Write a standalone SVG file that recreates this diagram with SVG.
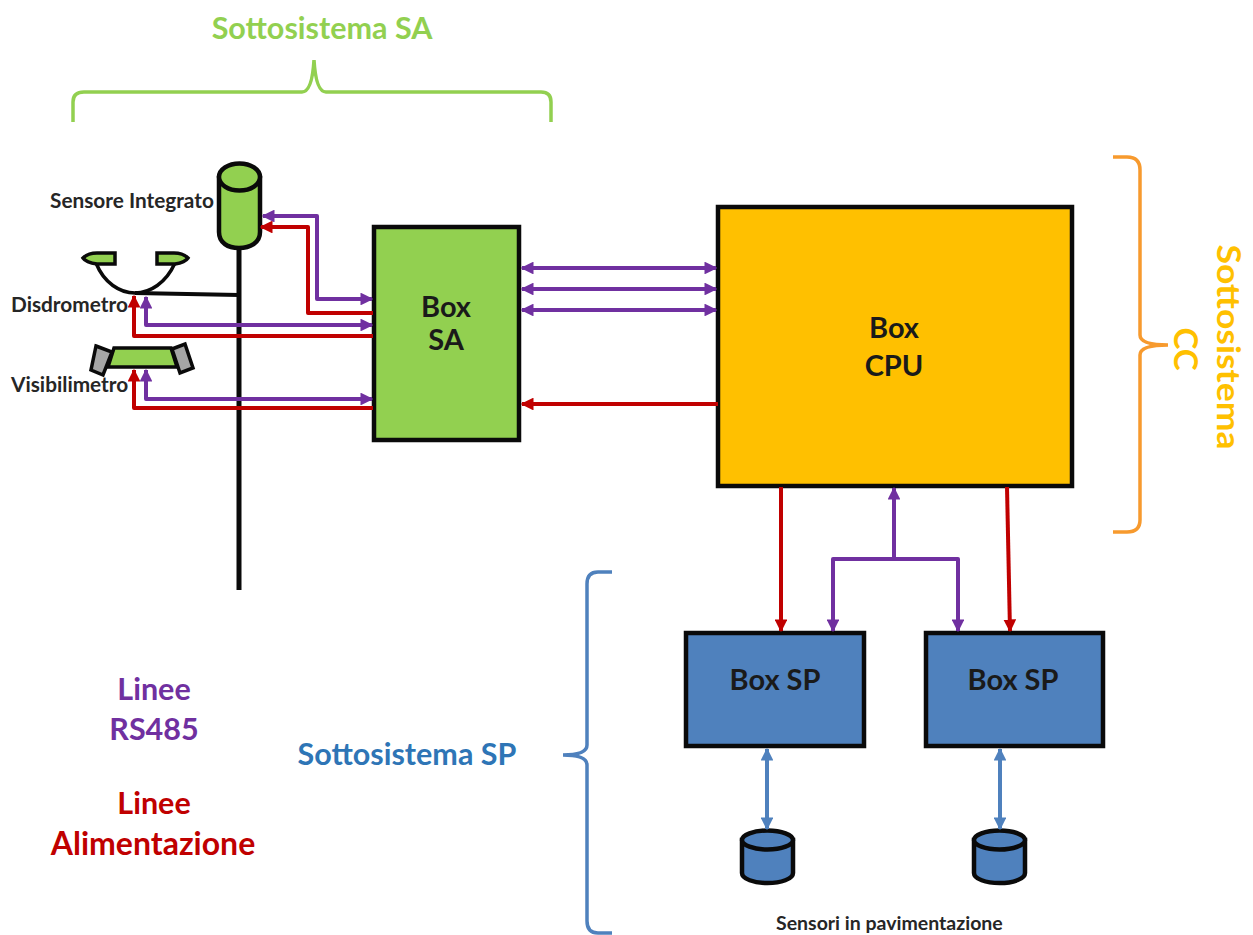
<svg xmlns="http://www.w3.org/2000/svg" width="1253" height="935" viewBox="0 0 1253 935">
<style>
text{font-family:Lato,"Noto Sans",sans-serif;font-weight:700}
.box{stroke:#0a0a0a;stroke-width:4.500}
.g{fill:#92d050}.b{fill:#4f81bd}.o{fill:#ffc000}
.ln{stroke:#0a0a0a;stroke-width:5;fill:none}
.p,.r,.bl{fill:none;stroke-width:4;stroke-linejoin:round}
.p{stroke:#7030a0}.r{stroke:#c00000}.bl{stroke:#4f81bd}
.lbl{font-size:20.800px;fill:#262626}
.big{font-size:30.500px;text-anchor:middle}
.inner{font-size:29px;text-anchor:middle;fill:#1a1a1a}
</style>
<defs>
<marker id="ap" viewBox="0 0 10 10" refX="9" refY="5" markerWidth="3.200" markerHeight="3.200" orient="auto-start-reverse"><path d="M0 0L10 5L0 10Z" fill="#7030a0"/></marker>
<marker id="ar" viewBox="0 0 10 10" refX="9" refY="5" markerWidth="3.200" markerHeight="3.200" orient="auto-start-reverse"><path d="M0 0L10 5L0 10Z" fill="#c00000"/></marker>
<marker id="ab" viewBox="0 0 10 10" refX="9" refY="5" markerWidth="3.200" markerHeight="3.200" orient="auto-start-reverse"><path d="M0 0L10 5L0 10Z" fill="#4f81bd"/></marker>
</defs>
<rect width="1253" height="935" fill="#fff"/>

<g id="palo"><path class="ln" d="M239 248V590"/><path class="ln" style="stroke-width:4" d="M135 293Q190 294 239 295"/></g>

<g id="sensore-integrato">
<path class="box g" d="M219 178V232C219 243 228 248 239 248C250 248 260 243 260 232V178Z"/>
<ellipse class="box g" cx="239.500" cy="177" rx="20.500" ry="13.500"/>
<text class="lbl" x="50" y="208">Sensore Integrato</text>
</g>
<g id="disdrometro">
<path class="ln" style="stroke-width:3.500" d="M96 263C104 283 120 293 135 293C150 293 166 283 175 263"/>
<path class="g" style="stroke:#0a0a0a;stroke-width:3.500" d="M115 253V264H97C89 263 85 261 83 258C86 255 90 253 97 253Z"/>
<path class="g" style="stroke:#0a0a0a;stroke-width:3.500" d="M157 253V264H175C182 263 186 261 188 258C185 255 180 253 174 253Z"/>
<text class="lbl" x="11" y="312">Disdrometro</text>
</g>
<g id="visibilimetro">
<path class="g" style="stroke:#0a0a0a;stroke-width:3.500" d="M114 348H171L177 367H108Z"/>
<path style="fill:#a6a6a6;stroke:#0a0a0a;stroke-width:3.500" d="M96 346L112 352L103 375L91 370Z"/>
<path style="fill:#a6a6a6;stroke:#0a0a0a;stroke-width:3.500" d="M172 349L185 344L193 368L180 373Z"/>
<text class="lbl" x="11" y="392">Visibilimetro</text>
</g>

<g id="box-sa"><rect class="box g" x="374" y="227" width="145" height="213"/>
<text class="inner" x="446" y="317">Box</text><text class="inner" x="446" y="350">SA</text></g>
<g id="box-cpu"><rect class="box o" x="718" y="207" width="354" height="279"/>
<text class="inner" x="894" y="338">Box</text><text class="inner" x="894" y="376">CPU</text></g>
<g id="box-sp-1"><rect class="box b" x="686" y="633" width="178" height="113"/>
<text class="inner" x="775" y="690">Box SP</text></g>
<g id="box-sp-2"><rect class="box b" x="926" y="633" width="177" height="113"/>
<text class="inner" x="1013" y="690">Box SP</text></g>

<g id="sensore-sp-1"><path class="box b" d="M742 840V873C742 879 754 883 767.500 883C781 883 793 879 793 873V840Z"/><ellipse class="box b" cx="767.500" cy="840" rx="25.500" ry="9.500"/></g>
<g id="sensore-sp-2"><path class="box b" d="M974 840V873C974 879 986 883 999.500 883C1013 883 1025 879 1025 873V840Z"/><ellipse class="box b" cx="999.500" cy="840" rx="25.500" ry="9.500"/></g>

<g id="connectors">
<path class="p" marker-start="url(#ap)" marker-end="url(#ap)" d="M263 216H317V299H372"/>
<path class="r" marker-end="url(#ar)" d="M373 313H308V227H261"/>
<path class="p" marker-start="url(#ap)" marker-end="url(#ap)" d="M146 297V325H372"/>
<path class="r" marker-end="url(#ar)" d="M373 336H134V296"/>
<path class="p" marker-start="url(#ap)" marker-end="url(#ap)" d="M146 370V399H372"/>
<path class="r" marker-end="url(#ar)" d="M373 408H134V370"/>
<path class="p" marker-start="url(#ap)" marker-end="url(#ap)" d="M522 268H716"/>
<path class="p" marker-start="url(#ap)" marker-end="url(#ap)" d="M522 289H716"/>
<path class="p" marker-start="url(#ap)" marker-end="url(#ap)" d="M522 310H716"/>
<path class="r" marker-end="url(#ar)" d="M718 404H522"/>
<path class="r" marker-end="url(#ar)" d="M781 487V631"/>
<path class="r" marker-end="url(#ar)" d="M1007 487L1010 631"/>
<path class="p" marker-end="url(#ap)" d="M894 559V488"/>
<path class="p" marker-end="url(#ap)" d="M894 559H833V631"/>
<path class="p" marker-end="url(#ap)" d="M894 559H958V631"/>
<path class="bl" marker-start="url(#ab)" marker-end="url(#ab)" d="M767 749V829"/>
<path class="bl" marker-start="url(#ab)" marker-end="url(#ab)" d="M1000 749V829"/>
</g>

<g id="sottosistema-sa">
<path fill="none" stroke="#92d050" stroke-width="3.500" d="M73 122V102Q73 92 84 92H302Q312 92 314 60Q316 92 326 92H541Q551 92 551 102V122"/>
<text class="big" x="322" y="39" fill="#92d050">Sottosistema SA</text>
</g>
<g id="sottosistema-cc">
<path fill="none" stroke="#f79a2e" stroke-width="3.500" d="M1113 157H1127Q1140 157 1140 170V335Q1140 345 1168 345Q1140 345 1140 355V520Q1140 532 1127 532H1113"/>
<text transform="translate(1217 347) rotate(90)" text-anchor="middle" textLength="205" lengthAdjust="spacingAndGlyphs" style="font-size:33px" fill="#ffc000">Sottosistema</text>
<text transform="translate(1174 349) rotate(90)" text-anchor="middle" style="font-size:33px" fill="#ffc000">CC</text>
</g>
<g id="sottosistema-sp">
<path fill="none" stroke="#4f81bd" stroke-width="3.500" d="M612 572H598Q587 572 587 584V745Q587 755 563 755Q587 755 587 765V921Q587 933 598 933H612"/>
<text class="big" x="407" y="765" fill="#2e75b6">Sottosistema SP</text>
</g>

<g id="legenda">
<text class="big" x="154" y="700" fill="#7030a0">Linee</text>
<text class="big" x="154" y="740" fill="#7030a0">RS485</text>
<text class="big" x="154" y="814" fill="#c00000">Linee</text>
<text class="big" x="153" y="855" style="font-size:32px" fill="#c00000">Alimentazione</text>
</g>
<text x="776" y="930" style="font-size:19.500px;fill:#262626">Sensori in pavimentazione</text>
</svg>
